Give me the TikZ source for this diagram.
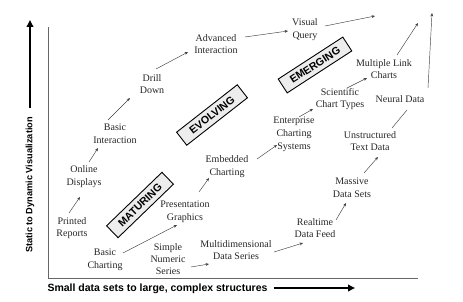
\documentclass[tikz,border=0pt]{standalone}
\usepackage{fontspec}
\setmainfont{Liberation Serif}
\newfontfamily\lsans{Liberation Sans}
\usetikzlibrary{arrows.meta}
\begin{document}
\begin{tikzpicture}[x=1pt,y=-1pt,
  lbl/.style={font=\fontsize{10}{12.8}\selectfont, align=center, text=black!85, inner sep=1pt},
  arr/.style={draw=black!75, line width=0.45pt, -{Stealth[length=3.4pt,width=2.8pt]}},
  plain/.style={draw=black!75, line width=0.45pt},
  stage/.style={draw=black, line width=0.9pt, fill=black!7, font=\lsans\bfseries\fontsize{10.6}{12}\selectfont, minimum width=77pt, minimum height=16.5pt, inner sep=1pt},
  axisline/.style={draw=black!60, line width=0.8pt},
  bigarr/.style={draw=black, line width=2.4pt, -{Triangle[length=7pt,width=6.5pt]}},
  axlbl/.style={font=\lsans\bfseries, text=black, inner sep=0pt}
]
\useasboundingbox (0,0) rectangle (463,302);

% axes
\coordinate (otop) at (48,27);
\coordinate (orig) at (48,278);
\coordinate (oright) at (418,278);
\draw[axisline] (otop) -- (orig) -- (oright);

% axis labels
\node[axlbl, rotate=90, font=\lsans\bfseries\fontsize{9.2}{11}\selectfont] (ylab) at (30,185) {Static to Dynamic Visualization};
\coordinate (ytip) at (30,20);
\draw[bigarr] ([shift={(0,-77)}]ylab.center) -- (ytip);
\node[axlbl, font=\lsans\bfseries\fontsize{10.5}{12}\selectfont] (xlab) at (157.5,289) {Small data sets to large, complex structures};
\coordinate (xtip) at (355,288);
\draw[bigarr] ([shift={(116,-1)}]xlab.center) -- (xtip);

% stage boxes
\node[stage, rotate=44] (mat) at (140,205) {MATURING};
\node[stage, rotate=38] (evo) at (212,115) {EVOLVING};
\node[stage, rotate=33] (eme) at (315,65) {EMERGING};

% nodes
\node[lbl] (pr) at (72,228) {Printed\\Reports};
\node[lbl] (od) at (84,177) {Online\\Displays};
\node[lbl] (bi) at (115,134) {Basic\\Interaction};
\node[lbl] (dd) at (152,84) {Drill\\Down};
\node[lbl] (ai) at (216,44) {Advanced\\Interaction};
\node[lbl] (vq) at (305,30) {Visual\\Query};
\node[lbl] (bc) at (105,260) {Basic\\Charting};
\node[lbl] (pg) at (185,212) {Presentation\\Graphics};
\node[lbl] (ec) at (227,167) {Embedded\\Charting};
\node[lbl] (ecs) at (294,134) {Enterprise\\Charting\\Systems};
\node[lbl] (sct) at (340,99) {Scientific\\Chart Types};
\node[lbl] (mlc) at (384,69) {Multiple Link\\Charts};
\node[lbl] (nd) at (400,99) {Neural Data};
\node[lbl] (utd) at (370,141) {Unstructured\\Text Data};
\node[lbl] (mds) at (352,188) {Massive\\Data Sets};
\node[lbl] (rdf) at (315,228) {Realtime\\Data Feed};
\node[lbl, font=\fontsize{10}{12.4}\selectfont] (sns) at (168,259) {Simple\\Numeric\\Series};
\node[lbl] (mdds) at (236,250) {Multidimensional\\Data Series};

% free ends
\coordinate (vqend) at (375,16);
\coordinate (mlcend) at (418,23);
\coordinate (ndend) at (432,13);

% connectors
\draw[arr] ([shift={(-3,-15)}]pr.center) -- ([shift={(-4,20)}]od.center);
\draw[arr] ([shift={(5,-15)}]od.center) -- ([shift={(-17,14)}]bi.center);
\draw[arr] ([shift={(-7,-14)}]bi.center) -- ([shift={(-22,14)}]dd.center);
\draw[arr] ([shift={(4,-15)}]dd.center) -- ([shift={(-28,8)}]ai.center);
\draw[arr] ([shift={(29,-7)}]ai.center) -- ([shift={(-17,1)}]vq.center);
\draw[arr] ([shift={(20,-4)}]vq.center) -- (vqend);
\draw[arr] ([shift={(18,-7)}]bc.center) -- ([shift={(-8,13)}]pg.center);
\draw[arr] ([shift={(14,-20)}]pg.center) -- ([shift={(-18,11)}]ec.center);
\draw[arr] ([shift={(30,-8)}]ec.center) -- ([shift={(-17,11)}]ecs.center);
\draw[arr] ([shift={(5,-17)}]ecs.center) -- ([shift={(-27,10)}]sct.center);
\draw[arr] ([shift={(7,-11)}]sct.center) -- ([shift={(-17,9)}]mlc.center);
\draw[arr] ([shift={(13,-14)}]mlc.center) -- (mlcend);
\draw[plain] ([shift={(22,-13)}]utd.center) -- ([shift={(7,11)}]nd.center);
\draw[arr] ([shift={(28,-11)}]nd.center) -- (ndend);
\draw[arr] ([shift={(12,-15)}]mds.center) -- ([shift={(8,16)}]utd.center);
\draw[arr] ([shift={(21,-8)}]rdf.center) -- ([shift={(-6,15)}]mds.center);
\draw[arr] ([shift={(38,2)}]mdds.center) -- ([shift={(-12,15)}]rdf.center);
\draw[arr] ([shift={(23,8)}]sns.center) -- ([shift={(-27,14)}]mdds.center);
\end{tikzpicture}
\end{document}
